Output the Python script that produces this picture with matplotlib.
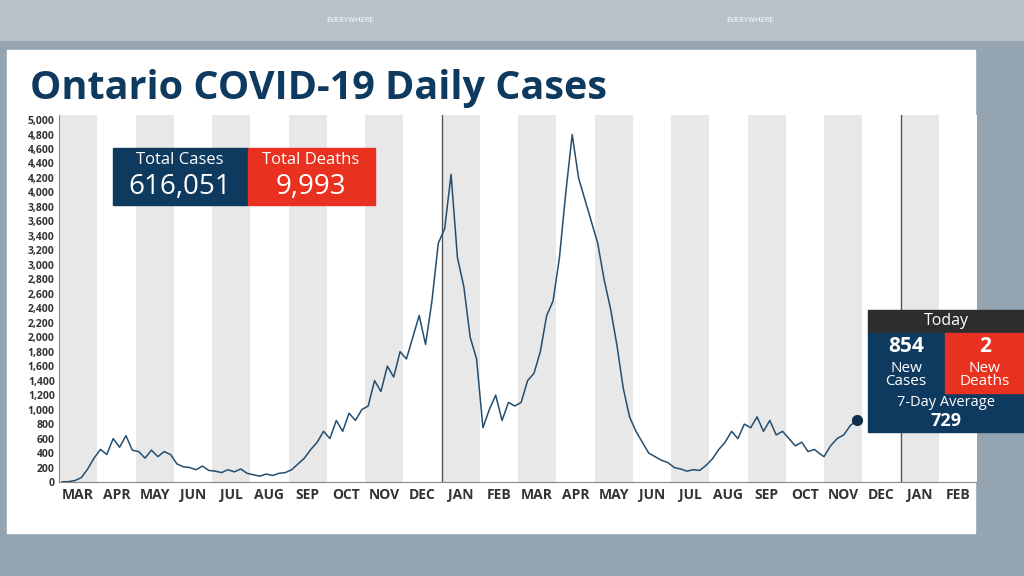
import matplotlib.pyplot as plt
import matplotlib.patches as mpatches
import numpy as np

months = ["MAR", "APR", "MAY", "JUN", "JUL", "AUG", "SEP", "OCT", "NOV", "DEC", "JAN", "FEB",
          "MAR", "APR", "MAY", "JUN", "JUL", "AUG", "SEP", "OCT", "NOV", "DEC", "JAN", "FEB"]

# daily cases, a few readings per month, Mar 2020 .. Nov 2021
cases = [
    [2, 5, 20, 60, 180, 330],
    [450, 380, 600, 480, 640, 440],
    [420, 330, 440, 350, 420, 380],
    [250, 210, 200, 170, 220, 160],
    [150, 130, 170, 140, 180, 120],
    [100, 80, 110, 90, 120, 130],
    [170, 250, 330, 450, 550, 700],
    [600, 850, 700, 950, 850, 1000],
    [1050, 1400, 1250, 1600, 1450, 1800],
    [1700, 2000, 2300, 1900, 2500, 3300],
    [3500, 4250, 3100, 2700, 2000, 1700],
    [750, 1000, 1200, 850, 1100, 1050],
    [1100, 1400, 1500, 1800, 2300, 2500],
    [3100, 4000, 4800, 4200, 3900, 3600],
    [3300, 2800, 2400, 1900, 1300, 900],
    [700, 550, 400, 350, 300, 270],
    [200, 180, 150, 170, 160, 230],
    [320, 450, 550, 700, 600, 800],
    [750, 900, 700, 850, 650, 700],
    [600, 500, 550, 420, 450, 380],
    [350, 500, 600, 650, 780, 854],
]
last_frac = 0.86

total_cases = "616,051"
total_deaths = "9,993"
new_cases = "854"
new_deaths = "2"
avg7 = "729"

NAVY = "#0f3a5f"
RED = "#e8321f"
W, H = 1024, 576
FONT = "Open Sans"

xs, ys = [], []
for m, vals in enumerate(cases):
    n = len(vals)
    for k, v in enumerate(vals):
        if m < len(cases) - 1:
            frac = (k + 0.5) / n
        else:
            frac = k / (n - 1) * last_frac
        xs.append(m + frac)
        ys.append(v)

fig = plt.figure(figsize=(W / 100, H / 100), dpi=100)
fig.patch.set_facecolor("#95a4b1")


def px_axes(x0, y0, x1, y1, **kw):
    return fig.add_axes([x0 / W, 1 - y1 / H, (x1 - x0) / W, (y1 - y0) / H], **kw)


def box(x0, y0, x1, y1, color, z=5):
    fig.patches.append(mpatches.Rectangle((x0 / W, 1 - y1 / H), (x1 - x0) / W, (y1 - y0) / H,
                                          transform=fig.transFigure, color=color, zorder=z))


def txt(x, y, s, **kw):
    fig.text(x / W, 1 - y / H, s, zorder=6, family=FONT, **kw)


box(0, 0, 1024, 40, "#b7c1ca", 1)
txt(350, 20, "EVERYWHERE", color="white", fontsize=5.5, ha="center", va="center")
txt(750, 20, "EVERYWHERE", color="white", fontsize=5.5, ha="center", va="center")
box(7, 50, 975, 533, "white", 1)

txt(30, 88, "Ontario COVID-19 Daily Cases", color=NAVY, fontsize=28.5, fontweight="bold",
    va="center")

ax = px_axes(59, 115, 977, 482)
ax.set_zorder(3)
for i in range(len(months)):
    if i % 2 == 0:
        ax.axvspan(i, i + 1, color="#e8e8e8", lw=0)
ax.axvline(10, color="#555555", lw=1)
ax.axvline(22, color="#555555", lw=1)
ax.plot(xs, ys, color="#244e70", lw=1.1)
ax.plot(xs[-1], ys[-1], "o", color="#0f2f4d", ms=7)
ax.set_xlim(0, 24)
ax.set_ylim(0, 5070)
ax.set_yticks(range(0, 5001, 200))
ax.set_yticklabels([f"{v:,}" for v in range(0, 5001, 200)], fontsize=7.5, fontweight="bold",
                   color="#333333", family=FONT)
ax.set_xticks(np.arange(len(months)) + 0.5)
ax.set_xticklabels(months, fontsize=10, fontweight="bold", color="#333333", family=FONT)
ax.tick_params(length=0, pad=3)
ax.tick_params(axis="x", pad=4)
for s in ["top", "right"]:
    ax.spines[s].set_visible(False)
ax.spines["left"].set_color("#888888")
ax.spines["bottom"].set_color("#888888")
ax.set_facecolor("white")

box(113, 148, 248, 205, NAVY)
box(248, 148, 375, 205, RED)
txt(180, 160, "Total Cases", color="white", fontsize=12, ha="center", va="center")
txt(180, 187, total_cases, color="white", fontsize=20, ha="center", va="center")
txt(311, 160, "Total Deaths", color="white", fontsize=12, ha="center", va="center")
txt(311, 187, total_deaths, color="white", fontsize=20, ha="center", va="center")

box(868, 310, 1024, 333, "#2d2d2d")
box(868, 333, 1024, 432, NAVY)
box(945, 333, 1024, 393, RED)
txt(946, 321, "Today", color="white", fontsize=11.5, ha="center", va="center")
txt(906, 346, new_cases, color="white", fontsize=15, fontweight="bold", ha="center", va="center")
txt(906, 375, "New\nCases", color="white", fontsize=11, ha="center", va="center", linespacing=0.9)
txt(985, 346, new_deaths, color="white", fontsize=15, fontweight="bold", ha="center", va="center")
txt(985, 375, "New\nDeaths", color="white", fontsize=11, ha="center", va="center", linespacing=0.9)
txt(946, 403, "7-Day Average", color="white", fontsize=10.5, ha="center", va="center")
txt(946, 421, avg7, color="white", fontsize=13, fontweight="bold", ha="center", va="center")

fig.savefig("out.png", dpi=100, facecolor=fig.get_facecolor())
